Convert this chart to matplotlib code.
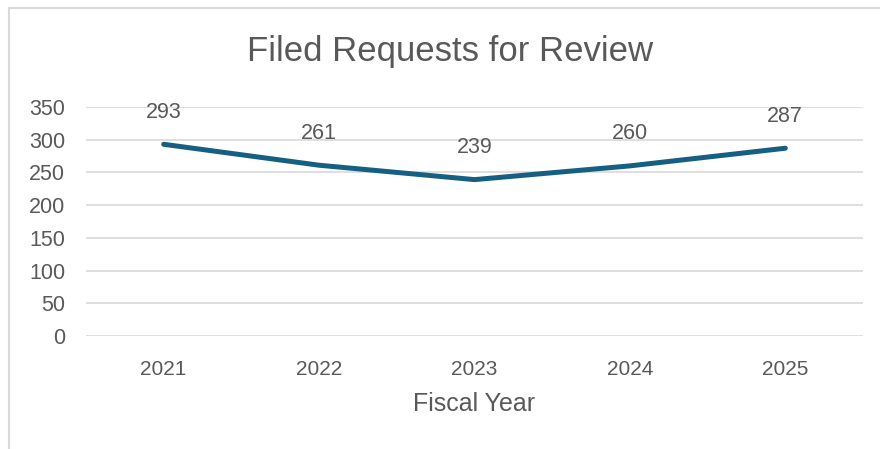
import matplotlib
matplotlib.use("Agg")
import matplotlib.pyplot as plt
from matplotlib.lines import Line2D

years = ["2021", "2022", "2023", "2024", "2025"]
requests = [293, 261, 239, 260, 287]
y_ticks = [0, 50, 100, 150, 200, 250, 300, 350]

LINE = "#156082"
TEXT = "#595959"
GRID = "#D9D9D9"

plt.rcParams["font.family"] = ["Liberation Sans", "DejaVu Sans"]

fig = plt.figure(figsize=(8.8, 4.49), dpi=100, facecolor="white")
ax = fig.add_axes([0.0977, 0.2517, 0.883, 0.51])

x = list(range(len(years)))
ax.plot(x, requests, color=LINE, linewidth=3.6, solid_capstyle="round", zorder=3)
for xi, v in zip(x, requests):
    ax.annotate(str(v), (xi, v), xytext=(0, 23), textcoords="offset points",
                ha="center", va="center", fontsize=15.5, color=TEXT)

ax.set_xlim(-0.5, len(years) - 0.5)
ax.set_ylim(0, 350)
ax.set_yticks(y_ticks)
ax.set_xticks(x)
ax.set_xticklabels(years)
ax.tick_params(axis="both", length=0, labelcolor=TEXT)
ax.tick_params(axis="y", pad=15, labelsize=15.5)
ax.tick_params(axis="x", pad=17, labelsize=15)
ax.grid(axis="y", color=GRID, linewidth=1.2)
ax.set_axisbelow(True)
for s in ax.spines.values():
    s.set_visible(False)

ax.set_xlabel("Fiscal Year", fontsize=18, color=TEXT, labelpad=10)
fig.text(0.512, 0.885, "Filed Requests for Review", ha="center", va="center",
         fontsize=25, color=TEXT)

# chart frame (cut off at right and bottom)
fig.add_artist(Line2D([8.5 / 880, 8.5 / 880], [0, 1 - 7.5 / 449],
                      transform=fig.transFigure, color=GRID, linewidth=1.5))
fig.add_artist(Line2D([8.5 / 880, 1], [1 - 7.5 / 449, 1 - 7.5 / 449],
                      transform=fig.transFigure, color=GRID, linewidth=1.5))

fig.savefig("out.png", dpi=100, facecolor="white")
